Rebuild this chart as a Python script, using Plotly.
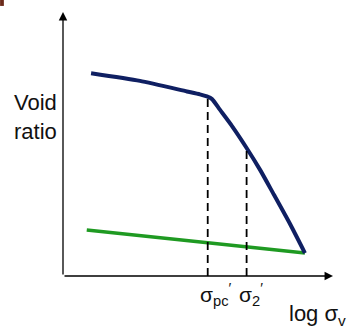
import plotly.graph_objects as go

# Data (arbitrary units: x = log effective stress, y = void ratio)
loading_x = [1.04, 2.85, 4.59, 5.07, 5.33, 5.52, 5.81, 6.26, 6.80, 7.30, 7.78, 8.41, 8.96]
loading_y = [7.68, 7.39, 6.99, 6.88, 6.80, 6.70, 6.30, 5.68, 4.85, 4.02, 3.14, 1.97, 0.87]
unload_x = [0.88, 8.96]
unload_y = [1.74, 0.87]
sigma_pc = 5.36
sigma_2 = 6.80
tick_labels = ["σ<sub>pc</sub><sup>′</sup>", "σ<sub>2</sub><sup>′</sup>"]

FONT = "Liberation Sans Narrow, Liberation Sans, Arial, sans-serif"
BLUE = "#0f1f62"
GREEN = "#1f9a22"

def interp(x, xs, ys):
    for i in range(len(xs) - 1):
        if xs[i] <= x <= xs[i + 1]:
            t = (x - xs[i]) / (xs[i + 1] - xs[i])
            return ys[i] + t * (ys[i + 1] - ys[i])
    return ys[-1]

fig = go.Figure()
fig.add_trace(go.Scatter(x=unload_x, y=unload_y, mode="lines",
                         line=dict(color=GREEN, width=3.5), hoverinfo="skip"))
fig.add_trace(go.Scatter(x=loading_x, y=loading_y, mode="lines",
                         line=dict(color=BLUE, width=4, shape="spline", smoothing=0.6),
                         hoverinfo="skip"))

for sx in [sigma_pc, sigma_2]:
    fig.add_trace(go.Scatter(x=[sx, sx], y=[0, interp(sx, loading_x, loading_y)],
                             mode="lines", line=dict(color="black", width=1.8, dash="8px,5px"),
                             hoverinfo="skip"))

# axes arrows
fig.add_annotation(x=0, y=10, ax=0, ay=0, xref="x", yref="y", axref="x", ayref="y",
                   showarrow=True, arrowhead=2, arrowsize=1.3, arrowwidth=1.3,
                   arrowcolor="black", text="")
fig.add_annotation(x=10, y=0, ax=0, ay=0, xref="x", yref="y", axref="x", ayref="y",
                   showarrow=True, arrowhead=2, arrowsize=1.3, arrowwidth=1.3,
                   arrowcolor="black", text="")

for sx, lab in zip([sigma_pc, sigma_2], tick_labels):
    fig.add_annotation(x=sx / 10, y=0, xref="paper", yref="paper", text=lab, showarrow=False,
                       xanchor="left", yanchor="top", xshift=-10, yshift=-2,
                       font=dict(family=FONT, size=21, color="#111"))

fig.add_annotation(x=1.056, y=-0.148, xref="paper", yref="paper", text="log σ<sub>v</sub>",
                   showarrow=False, xanchor="right", yanchor="middle",
                   font=dict(family=FONT, size=22, color="#111"))
fig.add_annotation(x=-0.189, y=0.602, xref="paper", yref="paper", text="Void<br>ratio",
                   showarrow=False, xanchor="left", yanchor="middle", align="left",
                   font=dict(family=FONT, size=22, color="#111"))

# corner mark
fig.add_shape(type="rect", xref="paper", yref="paper", x0=-0.233, x1=-0.219,
              y0=1.023, y1=1.046, fillcolor="#6b2a1a", line=dict(width=0))

fig.update_layout(
    width=349, height=333,
    margin=dict(l=63, r=16, t=12, b=57),
    paper_bgcolor="white", plot_bgcolor="white",
    showlegend=False,
    xaxis=dict(range=[0, 10], visible=False, fixedrange=True),
    yaxis=dict(range=[0, 10], visible=False, fixedrange=True),
)
fig.write_html("out.html", config={"displayModeBar": False})
